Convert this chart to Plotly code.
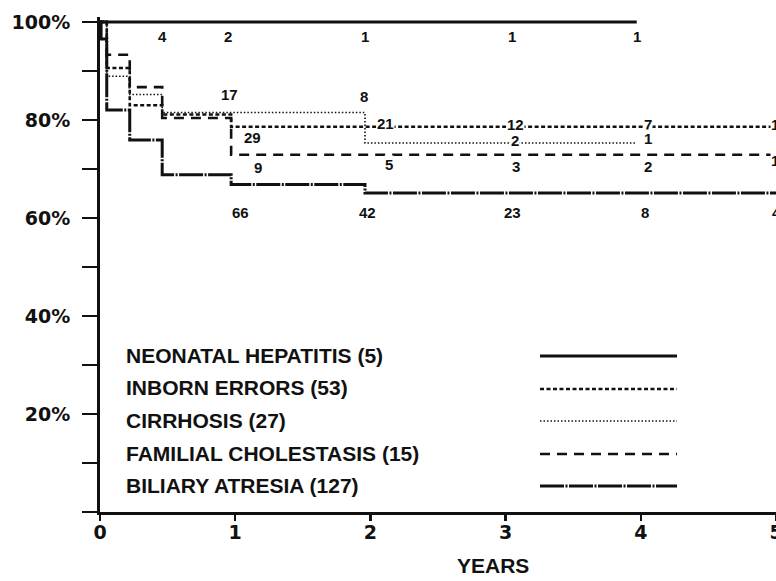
import plotly.graph_objects as go

# ---------------- data ----------------
X_TICKS = [0, 1, 2, 3, 4, 5]
Y_TICKS = [0, 10, 20, 30, 40, 50, 60, 70, 80, 90, 100]
Y_TICK_TEXT = ["", "", "20%", "", "40%", "", "60%", "", "80%", "", "100%"]

NAMES = ["NEONATAL HEPATITIS (5)", "INBORN ERRORS (53)", "CIRRHOSIS (27)",
         "FAMILIAL CHOLESTASIS (15)", "BILIARY ATRESIA (127)"]

# survival steps (years, % surviving)
NH_T = [0, 3.97]
NH_S = [100, 100]
IE_T = [0, 0.05, 0.22, 0.46, 0.97, 5.0]
IE_S = [100, 90.6, 83.0, 81.1, 78.6, 78.6]
CI_T = [0, 0.05, 0.22, 0.46, 1.96, 3.97]
CI_S = [100, 88.9, 85.2, 81.5, 75.3, 75.3]
FC_T = [0, 0.05, 0.22, 0.46, 0.97, 5.0]
FC_S = [100, 93.3, 86.7, 80.4, 72.9, 72.9]
BA_T = [0, 0.008, 0.05, 0.22, 0.46, 0.97, 1.96, 5.0]
BA_S = [100, 96.5, 82.0, 75.9, 68.8, 66.8, 65.1, 65.1]

# numbers at risk (year where written, count, level written at)
NH_RISK_T = [0.46, 0.95, 1.96, 3.05, 3.97]
NH_RISK_N = [4, 2, 1, 1, 1]
NH_RISK_Y = [97.0, 97.0, 97.0, 97.0, 97.0]
IE_RISK_T = [1.13, 2.11, 3.07, 4.05, 4.99]
IE_RISK_N = [29, 21, 12, 7, 1]
IE_RISK_Y = [76.5, 79.2, 79.0, 79.0, 79.0]
CI_RISK_T = [0.96, 1.95, 3.07, 4.05]
CI_RISK_N = [17, 8, 2, 1]
CI_RISK_Y = [85.1, 84.7, 75.9, 76.3]
FC_RISK_T = [1.17, 2.14, 3.08, 4.05, 4.99]
FC_RISK_N = [9, 5, 3, 2, 1]
FC_RISK_Y = [70.2, 71.0, 70.4, 70.4, 71.8]
BA_RISK_T = [1.04, 1.98, 3.05, 4.03, 5.0]
BA_RISK_N = [66, 42, 23, 8, 4]
BA_RISK_Y = [61.2, 61.2, 61.2, 61.2, 61.2]

# ---------------- styling ----------------
W, H = 776, 581
PLOT_L, PLOT_R, PLOT_T, PLOT_B = 100, 776, 17, 512   # plot area, in pixels
ML, MR, MT, MB = PLOT_L, W - PLOT_R, PLOT_T, H - PLOT_B
PW, PH = PLOT_R - PLOT_L, PLOT_B - PLOT_T
INK = "#111111"

STYLES = [
    dict(width=3.0, dash="solid"),
    dict(width=2.6, dash="4px,2.5px"),
    dict(width=1.6, dash="1.5px,2px"),
    dict(width=2.6, dash="10px,7px"),
    dict(width=3.0, dash="24px,1.5px,2px,1.5px"),
]

series = [(NH_T, NH_S), (IE_T, IE_S), (CI_T, CI_S), (FC_T, FC_S), (BA_T, BA_S)]
risks = [(NH_RISK_T, NH_RISK_N, NH_RISK_Y), (IE_RISK_T, IE_RISK_N, IE_RISK_Y),
         (CI_RISK_T, CI_RISK_N, CI_RISK_Y), (FC_RISK_T, FC_RISK_N, FC_RISK_Y),
         (BA_RISK_T, BA_RISK_N, BA_RISK_Y)]

fig = go.Figure()
for name, (t, s), st in zip(NAMES, series, STYLES):
    fig.add_trace(go.Scatter(
        x=t, y=s, mode="lines", name=name, line_shape="hv",
        line=dict(color=INK, width=st["width"], dash=st["dash"]),
        cliponaxis=False, showlegend=False, hoverinfo="skip"))

num_font = dict(family="Liberation Sans, Arial, sans-serif", size=15, color=INK, weight="bold")
annotations = []
for (rt, rn, ry) in risks:
    for t, n, y in zip(rt, rn, ry):
        annotations.append(dict(x=t, y=y, xref="x", yref="y", text=str(n),
                                xanchor="center", yanchor="middle",
                                showarrow=False, font=num_font,
                                bgcolor="white", borderpad=0))


def px_x(p):
    return (p - PLOT_L) / PW


def px_y(p):
    return (PLOT_B - p) / PH


legend_y = [355, 388, 420, 453, 485]
shapes = []
for name, st, ly in zip(NAMES, STYLES, legend_y):
    annotations.append(dict(x=px_x(124), y=px_y(ly), xref="paper", yref="paper",
                            xanchor="left", yanchor="middle", text=name, showarrow=False,
                            font=dict(family="Liberation Sans, Arial, sans-serif", size=21,
                                      color=INK, weight="bold")))
    shapes.append(dict(type="line", xref="paper", yref="paper",
                       x0=px_x(540), x1=px_x(677), y0=px_y(ly + 1), y1=px_y(ly + 1),
                       line=dict(color=INK, width=st["width"], dash=st["dash"])))

annotations.append(dict(x=px_x(493), y=px_y(565), xref="paper", yref="paper",
                        xanchor="center", yanchor="middle",
                        text="YEARS", showarrow=False,
                        font=dict(family="Liberation Sans, Arial, sans-serif", size=21,
                                  color=INK, weight="bold")))

fig.update_layout(
    width=W, height=H,
    margin=dict(l=ML, r=MR, t=MT, b=MB, pad=0),
    paper_bgcolor="white", plot_bgcolor="white",
    annotations=annotations, shapes=shapes,
    xaxis=dict(range=[0, 5], tickvals=X_TICKS, ticktext=[str(v) for v in X_TICKS],
               automargin=False, ticklabeloverflow="allow",
               showline=True, linecolor=INK, linewidth=3, showgrid=False, zeroline=False,
               ticks="outside", ticklen=6, tickwidth=2.5, tickcolor=INK,
               ticklabelstandoff=-5,
               tickfont=dict(family="DejaVu Sans, sans-serif", size=19, color=INK, weight="bold")),
    yaxis=dict(range=[0, 101], tickvals=Y_TICKS, ticktext=Y_TICK_TEXT,
               automargin=False,
               showline=True, linecolor=INK, linewidth=3, showgrid=False, zeroline=False,
               ticks="outside", ticklen=15, tickwidth=2.5, tickcolor=INK,
               ticklabelstandoff=8,
               tickfont=dict(family="DejaVu Sans, sans-serif", size=19, color=INK, weight="bold")),
)

# drop the page's default 8px body margin so the figure fills the window exactly
fig.write_html("out.html",
               config={"displayModeBar": False, "staticPlot": True},
               post_script="document.body.style.margin='0';document.body.style.overflow='hidden';")
